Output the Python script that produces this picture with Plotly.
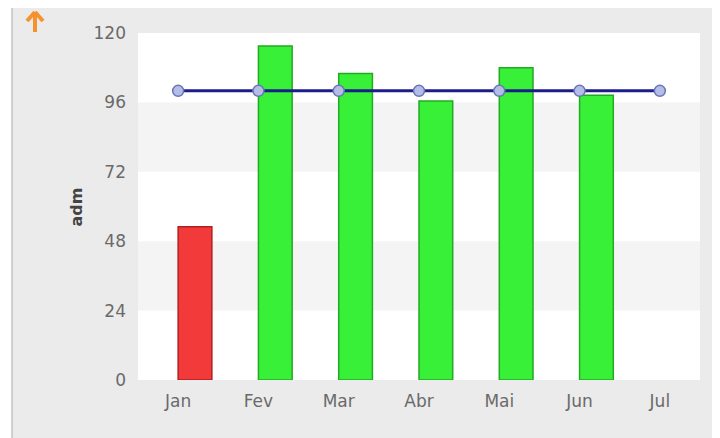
import plotly.graph_objects as go

months = ["Jan", "Fev", "Mar", "Abr", "Mai", "Jun", "Jul"]
bar_months = ["Jan", "Fev", "Mar", "Abr", "Mai", "Jun"]
bar_values = [53, 115.5, 106, 96.5, 108, 98.5]
bar_colors = ["#f23a3a", "#38f038", "#38f038", "#38f038", "#38f038", "#38f038"]
bar_edges = ["#b02020", "#22aa22", "#22aa22", "#22aa22", "#22aa22", "#22aa22"]
target = [100, 100, 100, 100, 100, 100, 100]
y_ticks = [0, 24, 48, 72, 96, 120]
y_title = "adm"

OFF = 8  # page body margin
W, H = 720 - OFF, 438 - OFF
L, R, T, B = 138 - OFF, 20, 33 - OFF, 58
pw, ph = W - L - R, H - T - B

def px(x):
    return (x - OFF - L) / pw

def py(y):
    return (H - B - (y - OFF)) / ph

fig = go.Figure()

fig.add_trace(go.Bar(
    x=bar_months, y=bar_values, offset=0, width=0.42,
    marker=dict(color=bar_colors, line=dict(color=bar_edges, width=1.5)),
    showlegend=False, hoverinfo="skip",
))
fig.add_trace(go.Scatter(
    x=months, y=target, mode="lines+markers",
    line=dict(color="#1c1c8a", width=3),
    marker=dict(size=11, color="#b4bde6", line=dict(color="#6a74b8", width=1.5)),
    showlegend=False, hoverinfo="skip",
))

orange = "#f5922e"
shapes = [
    dict(type="rect", xref="paper", yref="paper", x0=px(12), x1=px(724),
         y0=py(442), y1=py(5), fillcolor="#ebebeb", line=dict(color="#c4c4c4", width=1.5),
         layer="below"),
    dict(type="rect", xref="paper", yref="paper", x0=0, x1=1, y0=0, y1=1,
         fillcolor="#ffffff", line=dict(width=0), layer="below"),
    dict(type="line", xref="paper", yref="paper", x0=px(35), x1=px(35), y0=py(32), y1=py(13),
         line=dict(color=orange, width=4)),
    dict(type="line", xref="paper", yref="paper", x0=px(35), x1=px(27), y0=py(12), y1=py(21),
         line=dict(color=orange, width=4)),
    dict(type="line", xref="paper", yref="paper", x0=px(35), x1=px(43), y0=py(12), y1=py(21),
         line=dict(color=orange, width=4)),
]
for i in range(len(y_ticks) - 1):
    if i % 2 == 1:
        shapes.append(dict(type="rect", xref="paper", yref="y", x0=0, x1=1,
                           y0=y_ticks[i], y1=y_ticks[i + 1],
                           fillcolor="#f4f4f4", line=dict(width=0), layer="below"))

fig.update_layout(
    width=W, height=H,
    margin=dict(l=L, r=R, t=T, b=B),
    paper_bgcolor="#ffffff",
    plot_bgcolor="rgba(0,0,0,0)",
    shapes=shapes,
    font=dict(family="DejaVu Sans", size=17, color="#6a6a6a"),
    xaxis=dict(range=[-0.5, 6.5], showgrid=False, zeroline=False, showline=False,
               ticks="", tickfont=dict(size=17, color="#6a6a6a"), ticklabelstandoff=9),
    yaxis=dict(range=[0, 120], tickvals=y_ticks, showgrid=False, zeroline=False,
               showline=False, ticks="", tickfont=dict(size=17, color="#6a6a6a"),
               ticklabelstandoff=11),
    annotations=[
        dict(text="<b>" + y_title + "</b>", xref="paper", yref="paper", x=px(64), y=py(207),
             textangle=-90, showarrow=False, font=dict(size=16, color="#444444")),
    ],
)

fig.write_html("out.html")
